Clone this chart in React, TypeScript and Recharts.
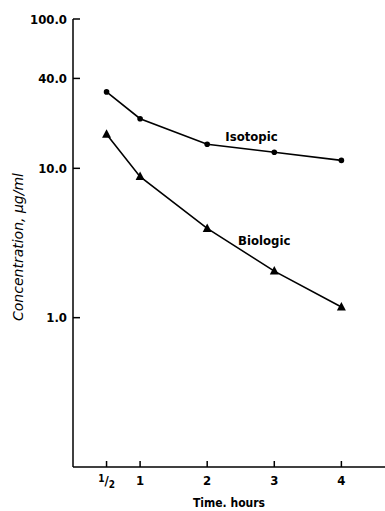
import { LineChart, Line, XAxis, YAxis, ReferenceDot } from "recharts";

const hours = [0.5, 1, 2, 3, 4];
const isotopic = [32.5, 21.5, 14.5, 12.8, 11.3];
const biologic = [16.9, 8.8, 3.96, 2.05, 1.18];
const yTicks = [1, 10, 40, 100];
const xTicks = [0.5, 1, 2, 3, 4];

const rows = hours.map((h, i) => ({ h, isotopic: isotopic[i], biologic: biologic[i] }));

const FONT = "'Liberation Sans Narrow', 'DejaVu Sans Condensed', Arial, sans-serif";

const YTick = (props: any) => {
  const { x, y, payload } = props;
  return (
    <g>
      <line x1={x + 5} x2={x + 12} y1={y} y2={y} stroke="#000" strokeWidth={1.5} />
      <text x={x - 1} y={y + 4.5} textAnchor="end" fontSize={13} fontWeight="bold" fontFamily={FONT} fill="#000">
        {Number(payload.value).toFixed(1)}
      </text>
    </g>
  );
};

const XTick = (props: any) => {
  const { x, y, payload } = props;
  const axisY = y - 8;
  return (
    <g>
      <line x1={x} x2={x} y1={axisY} y2={axisY - 6} stroke="#000" strokeWidth={1.5} />
      {payload.value === 0.5 ? (
        <text x={x} y={y + 10} textAnchor="middle" fontSize={13} fontWeight="bold" fontFamily={FONT} fill="#000">
          <tspan fontSize={10} dy={-3}>1</tspan>
          <tspan dy={3}>/</tspan>
          <tspan fontSize={10} dy={3}>2</tspan>
        </text>
      ) : (
        <text x={x} y={y + 10} textAnchor="middle" fontSize={13} fontWeight="bold" fontFamily={FONT} fill="#000">
          {payload.value}
        </text>
      )}
    </g>
  );
};

const Triangle = (props: any) => {
  const { cx, cy } = props;
  if (cx == null || cy == null) return null;
  return <path d={`M${cx},${cy - 5} L${cx + 4.5},${cy + 3.5} L${cx - 4.5},${cy + 3.5} Z`} fill="#000" />;
};

const lineLabel = (text: string) => (p: any) => {
  const { viewBox } = p;
  const cx = viewBox.x + (viewBox.width || 0) / 2;
  const cy = viewBox.y + (viewBox.height || 0) / 2;
  return (
    <text x={cx} y={cy + 4.5} textAnchor="middle" fontSize={13} fontWeight="bold" fontFamily={FONT} fill="#000">
      {text}
    </text>
  );
};

const YLabel = (p: any) => {
  const { viewBox } = p;
  const cx = viewBox.x + 18;
  const cy = viewBox.y + viewBox.height / 2 + 4;
  return (
    <text
      x={cx}
      y={cy}
      transform={`rotate(-90 ${cx} ${cy})`}
      textAnchor="middle"
      dominantBaseline="central"
      fontSize={14}
      fontStyle="italic"
      fontFamily="'DejaVu Sans', Arial, sans-serif"
      fill="#000"
      style={{ fill: "#000" }}
    >
      Concentration, {"\u03bc"}g/ml
    </text>
  );
};

export default function App() {
  return (
    <div style={{ position: "absolute", left: 0, top: 0, width: 385, height: 511, background: "#fff" }}>
      <LineChart width={385} height={511} data={rows} margin={{ top: 19, right: 0, bottom: 0, left: 0 }}>
        <XAxis
          dataKey="h"
          type="number"
          domain={[0, 4.65]}
          ticks={xTicks}
          allowDataOverflow
          axisLine={{ stroke: "#000", strokeWidth: 1.5 }}
          tickLine={false}
          tickSize={0}
          tickMargin={8}
          height={44}
          tick={<XTick />}
          label={{ value: "Time. hours", position: "insideBottom", offset: 4, fill: "#000", fontSize: 12, fontWeight: "bold", fontFamily: FONT }}
        />
        <YAxis
          scale="log"
          domain={[0.1, 100]}
          ticks={yTicks}
          allowDataOverflow
          width={73}
          axisLine={{ stroke: "#000", strokeWidth: 1.5 }}
          tickLine={false}
          tickSize={0}
          tickMargin={5}
          tick={<YTick />}
          label={<YLabel />}
        />
        <Line
          type="linear"
          dataKey="isotopic"
          stroke="#000"
          strokeWidth={1.6}
          dot={{ r: 2.8, fill: "#000", stroke: "#000", strokeWidth: 0 }}
          isAnimationActive={false}
        />
        <Line
          type="linear"
          dataKey="biologic"
          stroke="#000"
          strokeWidth={1.6}
          dot={<Triangle />}
          isAnimationActive={false}
        />
        <ReferenceDot x={2.66} y={16.3} r={0} stroke="none" label={lineLabel("Isotopic")} />
        <ReferenceDot x={2.85} y={3.3} r={0} stroke="none" label={lineLabel("Biologic")} />
      </LineChart>
    </div>
  );
}
